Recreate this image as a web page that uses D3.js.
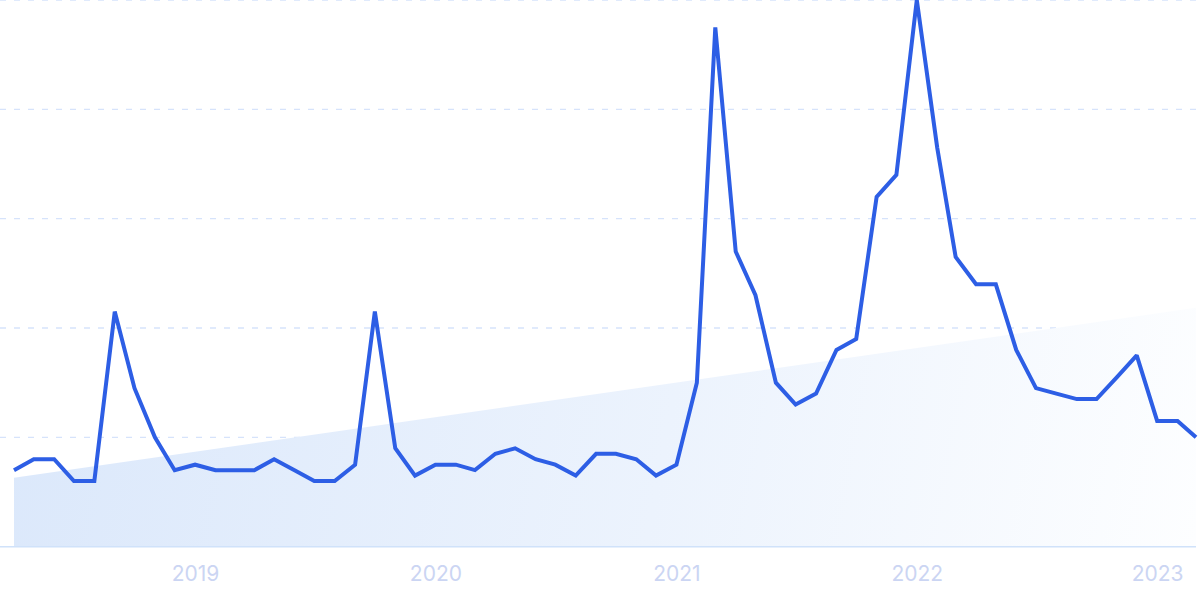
<!DOCTYPE html>
<html>
<head>
<meta charset="utf-8">
<script src="https://cdn.jsdelivr.net/npm/d3@7"></script>
<style>
  html, body { margin: 0; padding: 0; background: #ffffff; }
  svg { display: block; }
</style>
</head>
<body>
<svg id="chart" width="1200" height="599"></svg>
<script>
// ---- data (monthly, Apr 2018 – Mar 2023) ----
const startMonth = "2018-04";
const values = [14,16,16,12,12,43,29,20,14,15,14,14,14,16,14,12,12,15,43,18,13,15,15,14,17,18,16,15,13,17,17,16,13,15,30,95,54,46,30,26,28,36,38,64,68,100,73,53,48,48,36,29,28,27,27,31,35,23,23,20];
const trendValues = [12.6, 43.7];
const gridValues = [20, 40, 60, 80, 100];
const tickLabels = ["2019", "2020", "2021", "2022", "2023"];

const parse = d3.timeParse("%Y-%m");
const t0 = parse(startMonth);
const dates = values.map((_, i) => d3.timeMonth.offset(t0, i));
const series = values.map((v, i) => ({ date: dates[i], value: v }));
const trend = [
  { date: dates[0], value: trendValues[0] },
  { date: dates[dates.length - 1], value: trendValues[1] }
];

const svg = d3.select("#chart");
const W = 1200;
const x = d3.scaleTime().domain([dates[0], dates[dates.length - 1]]).range([14, 1196]);
const y = d3.scaleLinear().domain([0, 100]).range([546.7, 0]);

// gradient for trend area
const defs = svg.append("defs");
const grad = defs.append("linearGradient")
  .attr("id", "trendGrad")
  .attr("gradientUnits", "userSpaceOnUse")
  .attr("x1", 14).attr("y1", 330)
  .attr("x2", 1196).attr("y2", 547);
grad.append("stop").attr("offset", 0).attr("stop-color", "#dbe8fb");
grad.append("stop").attr("offset", 0.55).attr("stop-color", "#ecf3fd");
grad.append("stop").attr("offset", 1).attr("stop-color", "#fdfeff");

// grid lines
svg.append("g").selectAll("line")
  .data(gridValues)
  .join("line")
  .attr("x1", 0).attr("x2", W)
  .attr("y1", d => y(d)).attr("y2", d => y(d))
  .attr("stroke", "#d6e3fb")
  .attr("stroke-width", 1.3)
  .attr("stroke-dasharray", "6,8");

// trend area
const area = d3.area().x(d => x(d.date)).y0(y(0)).y1(d => y(d.value));
svg.append("path")
  .datum(trend)
  .attr("d", area)
  .attr("fill", "url(#trendGrad)");

// baseline axis
svg.append("line")
  .attr("x1", 0).attr("x2", 1196)
  .attr("y1", y(0)).attr("y2", y(0))
  .attr("stroke", "#d0e2fa")
  .attr("stroke-width", 1.6);

// x axis labels
const tickDates = tickLabels.map(s => d3.timeParse("%Y")(s));
const xAxis = d3.axisBottom(x)
  .tickValues(tickDates)
  .tickFormat(d3.timeFormat("%Y"))
  .tickSize(0)
  .tickPadding(0);
const gx = svg.append("g").call(xAxis);
gx.select(".domain").remove();
gx.selectAll("text")
  .attr("y", 581)
  .attr("dy", 0)
  .attr("fill", "#cbd5f3")
  .style("font-family", "Inter, 'Noto Sans', sans-serif")
  .style("font-size", "21px")
  .style("font-weight", 400);

// main line
const line = d3.line().x(d => x(d.date)).y(d => y(d.value));
svg.append("path")
  .datum(series)
  .attr("d", line)
  .attr("fill", "none")
  .attr("stroke", "#2d5ee5")
  .attr("stroke-width", 4)
  .attr("stroke-linejoin", "miter")
  .attr("stroke-miterlimit", 2);
</script>
</body>
</html>
